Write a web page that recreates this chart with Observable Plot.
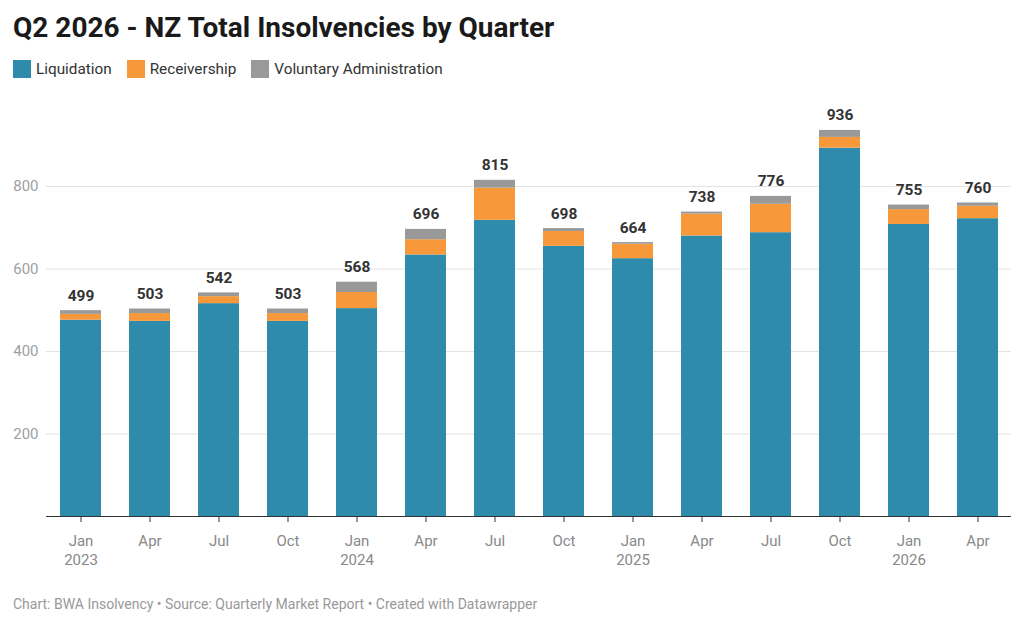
<!DOCTYPE html>
<html>
<head>
<meta charset="utf-8">
<script src="https://cdn.jsdelivr.net/npm/d3@7"></script>
<script src="https://cdn.jsdelivr.net/npm/@observablehq/plot@0.6"></script>
<style>
  html, body { margin: 0; padding: 0; background: #fff; }
  body { width: 1024px; height: 627px; position: relative; overflow: hidden; font-family: Roboto, "Noto Sans", sans-serif; }
  #title { position: absolute; left: 13px; top: 10px; font-size: 28px; font-weight: 700; color: #1a1a1a; white-space: nowrap; line-height: 36px; }
  #legend { position: absolute; left: 13px; top: 60px; display: flex; align-items: center; font-size: 15.3px; color: #333; }
  .item { display: flex; align-items: center; margin-right: 15px; }
  .sw { width: 18px; height: 18px; margin-right: 5px; }
  #chart { position: absolute; left: 0; top: 90px; }
  #footer { position: absolute; left: 13px; top: 596px; font-size: 14px; color: #999; white-space: nowrap; }
</style>
</head>
<body>
<div id="title">Q2 2026 - NZ Total Insolvencies by Quarter</div>
<div id="legend"></div>
<div id="chart"></div>
<div id="footer">Chart: BWA Insolvency • Source: Quarterly Market Report • Created with Datawrapper</div>
<script>
const categories = ["Jan 2023","Apr 2023","Jul 2023","Oct 2023","Jan 2024","Apr 2024","Jul 2024","Oct 2024","Jan 2025","Apr 2025","Jul 2025","Oct 2025","Jan 2026","Apr 2026"];
const liquidation = [476, 473, 516, 473, 504, 634, 718, 655, 625, 680, 688, 893, 708, 722];
const receivership = [14, 19, 17, 19, 39, 37, 78, 36, 35, 53, 69, 26, 36, 30];
const voluntary = [9, 11, 9, 11, 25, 25, 19, 7, 4, 5, 19, 17, 11, 8];
const totals = [499, 503, 542, 503, 568, 696, 815, 698, 664, 738, 776, 936, 755, 760];
const series = ["Liquidation", "Receivership", "Voluntary Administration"];
const colors = ["#2e8bab", "#f7993b", "#999999"];
const yTicks = [200, 400, 600, 800];

const values = [liquidation, receivership, voluntary];
const rows = categories.flatMap((q, i) => series.map((s, k) => ({q, s, v: values[k][i]})));
const labels = categories.map((q, i) => ({q, total: totals[i]}));

const legend = document.getElementById("legend");
series.forEach((s, k) => {
  const it = document.createElement("div");
  it.className = "item";
  it.innerHTML = `<div class="sw" style="background:${colors[k]}"></div><span>${s}</span>`;
  legend.appendChild(it);
});

const fmt = d => d.startsWith("Jan") ? d.replace(" ", "\n") : d.split(" ")[0];

const chart = Plot.plot({
  width: 1024,
  height: 490,
  marginLeft: 46,
  marginRight: 13,
  marginTop: 0,
  marginBottom: 64,
  style: {fontFamily: "Roboto, sans-serif", fontSize: "15px", background: "transparent", overflow: "visible"},
  x: {domain: categories, paddingInner: 0.41, paddingOuter: 0.18, label: null},
  y: {domain: [0, 800], range: [426, 96], label: null},
  color: {domain: series, range: colors},
  marks: [
    Plot.gridY(yTicks, {stroke: "#e3e3e3", strokeOpacity: 1}),
    Plot.axisY(yTicks, {tickSize: 0, tickPadding: 8, fill: "#a0a0a0", fontSize: 15, label: null}),
    Plot.barY(rows, {x: "q", y: "v", fill: "s"}),
    Plot.text(labels, {x: "q", y: "total", text: d => String(d.total), dy: -10, lineAnchor: "bottom", fontWeight: "bold", fill: "#333", fontSize: 15.5}),
    Plot.ruleY([0], {stroke: "#333", strokeWidth: 1.2}),
    Plot.axisX({tickSize: 6, tickPadding: 10, stroke: "#333", fill: "#888", fontSize: 15, lineHeight: 1.27, tickFormat: fmt, label: null})
  ]
});
document.getElementById("chart").appendChild(chart);
</script>
</body>
</html>
